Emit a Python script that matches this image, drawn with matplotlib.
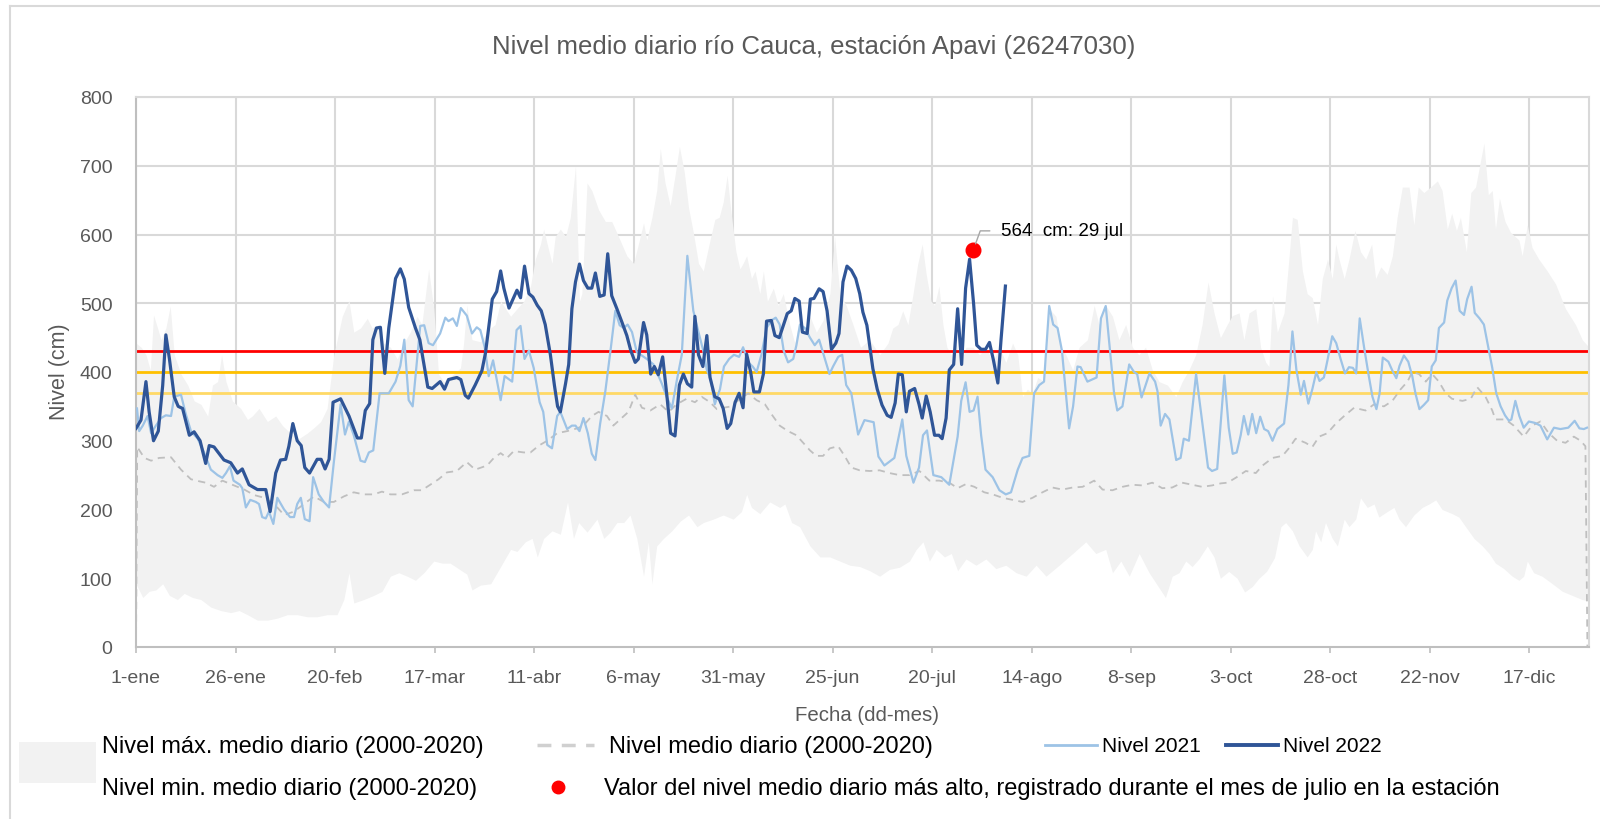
import numpy as np
import matplotlib.pyplot as plt
from matplotlib.lines import Line2D
from matplotlib.patches import Rectangle

plt.rcParams['font.family'] = ['Liberation Sans', 'DejaVu Sans']

# dia del año (0 = 1-ene) y nivel en cm
dia_2022 = [0, 1.25, 2.5, 3.3, 4.4, 5.6, 6.7, 7.5, 8.4, 9.6, 10.6, 11.7, 13.4, 14.6, 16.1, 17.5, 18.4, 19.6,
            20.9, 22.1, 23.8, 25.5, 26.7, 28.4, 30.5, 32.6, 33.7, 35.1, 36.3, 37.6, 38.4, 39.4, 40.5, 41.5,
            42.4, 43.6, 45.5, 46.5, 47.5, 48.5, 49.5, 51.4, 53.5, 55.6, 56.6, 57.6, 58.7, 59.5, 60.4, 61.4,
            62.5, 63.5, 65.2, 66.4, 67.4, 68.5, 70.2, 71.3, 72.1, 73.3, 74.4, 76.4, 77.5, 78.5, 80.6, 81.6,
            82.7, 83.5, 85.2, 86.9, 87.8, 89.5, 90.6, 91.6, 92.4, 93.7, 95.7, 96.6, 97.6, 98.7, 99.7, 100.8,
            101.8, 102.8, 104.1, 105.1, 105.9, 106.6, 107.9, 108.7, 109.5, 110.4, 111.4, 112.4, 113.5, 114.5,
            115.4, 116.5, 117.6, 118.5, 119.5, 120.8, 122.1, 123.3, 124.3, 125.4, 126.2, 127.5, 128.3, 129.3,
            130.2, 131.2, 132.3, 133.3, 134.3, 135.4, 136.5, 137.5, 138.5, 139.6, 140.4, 141.3, 142.4, 143.4,
            144.2, 145.4, 146.5, 147.5, 148.5, 149.4, 150.5, 151.5, 152.5, 153.4, 154.4, 155.2, 156.6, 157.6,
            158.4, 159.6, 160.5, 161.6, 162.7, 163.6, 164.6, 165.5, 166.6, 167.4, 168.6, 169.4, 170.3, 171.6,
            172.6, 173.6, 174.7, 175.8, 176.6, 177.6, 178.6, 179.7, 180.8, 181.8, 182.6, 183.6, 185.1, 186.2,
            187.4, 188.7, 189.7, 190.7, 191.5, 192.5, 193.5, 194.3, 195.6, 196.7, 197.5, 198.5, 199.5, 200.6,
            201.7, 202.5, 203.5, 204.3, 205.4, 206.4, 207.4, 208.4, 209.4, 210.4, 211.2, 212.3, 213.4, 214.4,
            215.4, 216.5, 217.3, 218.4]
nivel_2022 = [318, 330, 386, 342, 300, 314, 380, 454, 419, 364, 350, 347, 308, 313, 300, 267, 293, 291,
              281, 272, 268, 253, 259, 236, 229, 229, 197, 253, 272, 273, 292, 325, 300, 293,
              261, 253, 273, 273, 259, 273, 356, 361, 336, 304, 304, 344, 354, 447, 464, 465,
              398, 464, 536, 550, 535, 494, 464, 447, 419, 378, 376, 386, 375, 389, 392, 389,
              366, 362, 381, 402, 428, 506, 517, 547, 522, 493, 519, 508, 554, 514, 509, 497,
              489, 469, 425, 381, 350, 342, 383, 411, 492, 531, 557, 533, 522, 522,
              544, 510, 512, 572, 511, 492, 472, 453, 431, 414, 419, 472, 454, 397,
              408, 396, 422, 369, 311, 307, 381, 397, 383, 378, 481, 425, 408, 453,
              392, 364, 361, 347, 318, 325, 356, 369, 348, 426, 400, 371, 371, 397,
              474, 475, 453, 450, 469, 485, 489, 507, 503, 458, 456, 506, 507, 521,
              517, 489, 433, 442, 456, 531, 554, 548, 536, 514, 487, 468, 405, 375,
              352, 337, 334, 355, 397, 396, 342, 372, 376, 353, 333, 365, 342, 308,
              308, 303, 333, 403, 411, 492, 411, 522, 564, 500, 439, 433, 433, 443,
              417, 384, 447, 525]

dia_2021 = [0.25, 0.8, 1.7, 2.9, 3.8, 5.0, 6.3, 7.5, 8.8, 9.6, 11.3, 12.5, 13.8, 15.5, 17.1, 18.8, 20.5,
            21.7, 22.6, 23.6, 24.5, 26.1, 26.7, 27.6, 28.7, 30.1, 30.9, 31.7, 32.6, 33.4, 34.5, 35.5, 37.2,
            38.7, 39.7, 40.5, 41.4, 42.4, 43.6, 44.5, 45.9, 47.2, 48.5, 49.7, 51.4, 52.5, 53.5, 54.7, 56.4,
            57.5, 58.5, 59.6, 61.2, 63.5, 65.2, 66.4, 67.4, 68.5, 69.5, 71.4, 72.4, 73.5, 74.6, 76.4, 77.7,
            78.5, 79.6, 80.6, 81.6, 83.1, 84.4, 85.6, 86.5, 87.6, 88.6, 89.7, 91.6, 92.6, 94.5, 95.6, 96.6,
            97.6, 98.7, 99.9, 101.4, 102.3, 103.3, 104.5, 105.8, 106.6, 108.3, 109.5, 110.4, 111.4, 112.4,
            113.5, 114.5, 115.4, 116.6, 117.9, 119.3, 120.4, 121.5, 122.5, 123.5, 124.6, 125.8, 126.8, 128.3,
            130.0, 132.1, 133.3, 134.6, 135.8, 137.1, 138.5, 140.0, 141.3, 142.5, 143.4, 144.4, 145.4, 146.7,
            147.7, 149.0, 150.2, 151.5, 152.5, 153.8, 154.9, 155.9, 157.1, 158.4, 159.6, 160.7, 161.7, 162.7,
            163.8, 165.1, 165.9, 166.8, 168.0, 169.3, 170.5, 171.6, 172.8, 174.2, 175.1, 176.4, 177.4, 178.4,
            179.7, 181.4, 183.0, 185.3, 186.5, 188.0, 190.5, 192.5, 193.5, 195.3, 196.7, 197.7, 198.7, 200.3,
            202.3, 204.3, 206.4, 207.3, 208.4, 209.4, 210.4, 211.4, 212.3, 213.4, 215.2, 216.9, 218.5, 219.8,
            221.5, 222.7, 224.4, 225.6, 226.9, 228.1, 229.4, 230.4, 231.5, 232.6, 234.4, 235.4, 236.5, 237.3,
            239.0, 241.3, 242.4, 243.6, 244.6, 245.7, 246.5, 247.8, 249.5, 250.7, 251.5, 252.6, 254.6, 256.0,
            256.6, 257.4, 258.5, 259.6, 261.3, 262.4, 263.2, 264.5, 266.3, 269.3, 270.3, 271.6, 273.4, 274.5,
            275.5, 276.5, 277.5, 278.3, 279.4, 280.4, 281.4, 282.4, 283.4, 284.4, 285.5, 286.7, 288.4, 289.5,
            290.5, 291.5, 292.6, 293.4, 294.5, 295.5, 296.5, 297.3, 298.4, 299.3, 300.5, 301.5, 302.6, 303.7,
            304.7, 305.7, 306.5, 307.4, 308.5, 309.6, 310.6, 311.6, 312.4, 313.2, 314.6, 315.6, 316.6, 317.4,
            318.5, 319.6, 320.6, 321.4, 322.4, 323.5, 324.6, 325.5, 326.5, 327.3, 328.6, 329.4, 330.5, 331.5,
            332.5, 333.6, 334.4, 335.5, 336.3, 337.5, 338.6, 339.7, 340.7, 341.7, 342.8, 343.9, 344.9, 345.5,
            346.5, 347.5, 348.6, 349.9, 351.4, 352.8, 354.5, 356.2, 357.8, 359.8, 361.4, 362.6, 363.7, 364.5]
nivel_2021 = [347, 314, 322, 336, 311, 322, 333, 337, 336, 364, 367, 339, 314, 303, 283, 258, 250,
              246, 253, 263, 242, 236, 231, 203, 214, 211, 208, 189, 187, 197, 179, 217, 200,
              189, 189, 208, 217, 186, 183, 247, 222, 211, 203, 269, 353, 309, 328, 308, 271,
              269, 283, 286, 369, 369, 386, 409, 447, 359, 350, 467, 468, 442, 439, 456, 479,
              474, 478, 467, 493, 482, 456, 465, 461, 436, 394, 417, 359, 394, 386, 461, 467,
              419, 431, 406, 356, 342, 294, 289, 336, 342, 317, 322, 322, 314, 333,
              311, 281, 272, 325, 372, 436, 489, 468, 464, 469, 458, 429, 425, 419,
              411, 383, 364, 347, 386, 425, 569, 489, 458, 431, 403, 389, 353, 375,
              408, 419, 425, 422, 436, 414, 408, 400, 425, 464, 475, 479, 469, 431,
              414, 419, 439, 469, 464, 450, 439, 447, 424, 397, 408, 422, 425, 381,
              369, 309, 330, 327, 277, 264, 275, 331, 278, 239, 261, 308, 315, 250,
              247, 236, 306, 358, 385, 342, 344, 364, 308, 258, 247, 228, 222, 225,
              258, 275, 278, 369, 381, 386, 496, 469, 464, 431, 318, 350, 408, 407,
              386, 392, 478, 496, 436, 369, 344, 350, 411, 400, 397, 363, 398, 386,
              372, 322, 339, 331, 272, 275, 303, 300, 397, 261, 256, 259, 395, 319,
              281, 283, 308, 336, 309, 339, 311, 335, 317, 314, 300, 317, 325, 381,
              459, 403, 367, 387, 354, 375, 400, 387, 392, 417, 452, 442, 419, 398,
              407, 406, 398, 478, 436, 397, 364, 346, 369, 421, 415, 402, 391, 409,
              424, 415, 394, 369, 346, 352, 359, 408, 417, 464, 472, 504, 522, 533,
              489, 483, 506, 524, 486, 478, 469, 436, 406, 369, 350, 337, 329, 331,
              358, 336, 319, 328, 326, 322, 302, 319, 317, 319, 329, 318, 317, 319]

dia_medio = [0, 0.3, 2.1, 3.8, 5.8, 8.8, 11.3, 13.8, 15.9, 17.5, 19.6, 21.7, 24.2, 27.2, 29.7, 32.2, 34.7,
             37.2, 39.7, 42.2, 44.7, 47.2, 49.7, 52.2, 54.7, 57.2, 59.7, 61.8, 63.9, 66.8, 69.8, 71.8, 73.9,
             76.0, 78.1, 80.6, 83.1, 85.2, 88.2, 89.9, 91.6, 93.2, 94.9, 97.4, 99.1, 101.2, 103.3, 105.8,
             108.3, 110.8, 112.4, 114.5, 116.2, 118.3, 119.9, 121.6, 123.7, 125.4, 127.1, 129.2, 131.7, 133.8,
             135.8, 138.3, 140.4, 142.1, 144.2, 145.9, 147.5, 149.6, 151.7, 153.8, 155.9, 158.0, 159.6, 161.7,
             163.8, 165.9, 167.6, 169.3, 170.9, 172.6, 174.3, 176.4, 178.0, 179.7, 181.8, 184.3, 186.8, 189.3,
             191.8, 194.3, 196.8, 199.3, 201.8, 204.3, 206.4, 208.5, 210.6, 213.1, 215.2, 217.7, 220.2, 222.7,
             225.2, 227.7, 230.2, 232.7, 235.3, 237.8, 240.7, 242.8, 245.3, 247.8, 250.3, 252.8, 255.3, 257.8,
             260.3, 262.8, 265.3, 267.8, 270.3, 272.5, 274.2, 276.5, 278.8, 281.3, 283.0, 285.5, 288.0, 289.6,
             291.3, 293.8, 295.5, 297.2, 299.3, 301.4, 303.5, 306.0, 308.9, 311.0, 313.5, 315.6, 317.7, 319.4,
             320.6, 322.3, 324.0, 325.6, 327.3, 329.0, 330.6, 333.2, 335.3, 336.9, 339.0, 340.7, 341.5, 344.0,
             346.1, 348.6, 350.7, 352.8, 354.9, 357.0, 359.1, 361.2, 362.9, 364.1, 364.6]
nivel_medio = [0, 291, 275, 271, 275, 276, 258, 244, 241, 239, 233, 242, 236, 229, 221, 217, 208,
               192, 197, 208, 219, 211, 211, 219, 225, 222, 222, 226, 222, 222, 228, 228, 236,
               244, 254, 256, 269, 258, 264, 275, 282, 275, 285, 283, 283, 293, 300, 311,
               314, 318, 322, 336, 342, 336, 322, 331, 342, 367, 348, 344, 353, 342,
               353, 361, 356, 364, 356, 346, 348, 350, 361, 369, 359, 353, 339, 322,
               314, 308, 297, 286, 278, 278, 289, 292, 278, 261, 257, 256, 257, 253,
               250, 250, 256, 242, 242, 239, 231, 237, 233, 225, 222, 217, 214, 211,
               217, 225, 232, 229, 232, 233, 242, 229, 228, 233, 236, 235, 239, 231,
               232, 239, 236, 233, 235, 238, 239, 247, 256, 253, 264, 275, 278, 289,
               303, 297, 291, 306, 311, 325, 336, 348, 344, 353, 350, 358, 375, 386,
               400, 397, 386, 397, 386, 369, 361, 358, 361, 378, 364, 344, 331, 331,
               322, 306, 322, 328, 311, 300, 297, 306, 300, 292, 0]

dia_max = [0, 1.3, 2.5, 3.6, 4.4, 6.3, 7.5, 8.6, 9.6, 11.3, 13.0, 14.6, 16.3, 18.0, 19.2, 20.5, 21.5,
           22.6, 24.2, 26.3, 28.0, 29.2, 30.9, 33.0, 35.1, 36.8, 38.8, 40.9, 43.0, 44.7, 46.4, 48.0, 49.7,
           51.8, 53.5, 54.7, 56.4, 58.1, 59.3, 61.0, 62.2, 63.9, 65.6, 67.3, 68.9, 70.6, 71.8, 73.5, 74.8,
           76.0, 77.3, 79.8, 81.5, 82.3, 83.1, 84.4, 86.5, 89.1, 90.2, 91.6, 94.1, 95.7, 97.4, 99.1, 100.3,
           101.6, 102.4, 103.3, 104.5, 105.3, 106.6, 107.9, 109.1, 110.4, 111.4, 112.0, 113.3, 114.5, 116.2,
           117.9, 119.5, 121.2, 123.3, 125.0, 126.2, 127.5, 128.3, 129.6, 130.8, 131.7, 132.9, 134.2, 135.4,
           136.5, 137.7, 138.8, 140.0, 141.3, 142.5, 144.2, 145.4, 146.5, 147.5, 148.5, 149.4, 150.7, 151.7,
           152.5, 153.4, 154.6, 155.5, 156.7, 157.6, 158.6, 160.1, 161.3, 162.6, 164.2, 165.5, 166.7, 168.0,
           169.3, 170.9, 172.6, 174.3, 175.5, 176.8, 178.4, 180.1, 182.0, 184.3, 186.8, 188.9, 190.1, 191.4,
           192.6, 193.9, 195.2, 196.4, 197.5, 198.5, 199.7, 200.6, 201.7, 202.7, 203.7, 204.8, 206.0, 207.3,
           208.5, 210.2, 211.9, 213.5, 215.2, 216.9, 218.5, 220.2, 221.5, 222.7, 223.9, 225.2, 226.5, 228.2,
           229.4, 231.1, 232.3, 233.6, 235.3, 236.9, 239.0, 240.7, 241.9, 243.6, 245.3, 246.9, 248.6, 250.3,
           251.9, 253.6, 255.3, 257.0, 259.1, 261.2, 262.8, 264.5, 266.2, 267.8, 269.3, 270.8, 272.4, 274.1,
           275.4, 277.1, 278.3, 279.6, 281.3, 282.5, 283.8, 284.6, 285.5, 286.7, 288.4, 289.6, 290.5, 291.7,
           293.0, 294.2, 295.5, 296.8, 298.0, 299.3, 300.5, 301.4, 302.2, 303.5, 304.7, 306.2, 307.6, 308.9,
           310.4, 311.4, 312.7, 314.3, 315.6, 316.8, 318.1, 319.8, 321.0, 322.1, 323.5, 325.2, 326.9, 328.1,
           329.4, 330.5, 331.7, 332.7, 334.2, 335.3, 336.5, 338.6, 339.7, 340.7, 341.5, 342.5, 343.9, 345.3,
           347.4, 348.2, 349.5, 350.7, 352.4, 354.5, 356.6, 359.1, 361.6, 363.3, 365]
nivel_max = [442, 436, 425, 403, 483, 447, 464, 496, 425, 397, 381, 358, 353, 336, 381, 386, 425,
             386, 358, 347, 331, 336, 347, 328, 336, 322, 311, 303, 311, 319, 328, 347, 425,
             481, 504, 458, 464, 478, 464, 469, 442, 436, 419, 442, 458, 481, 469, 550, 492,
             397, 386, 397, 406, 442, 497, 447, 444, 464, 469, 503, 481, 492, 503, 525, 564,
             586, 608, 586, 558, 597, 608, 597, 625, 700, 503, 514, 675, 664, 636,
             619, 619, 597, 569, 558, 586, 617, 592, 625, 664, 725, 675, 642, 686,
             728, 692, 639, 603, 558, 547, 592, 622, 625, 647, 686, 636, 575, 550,
             558, 569, 536, 547, 514, 547, 503, 522, 497, 514, 469, 442, 478, 458,
             481, 458, 475, 514, 597, 514, 497, 469, 436, 447, 425, 442, 464, 469,
             489, 469, 514, 558, 586, 542, 503, 497, 525, 469, 436, 425, 442, 414,
             436, 436, 425, 436, 414, 436, 414, 442, 425, 364, 375, 369, 392, 386,
             492, 481, 436, 425, 403, 436, 447, 497, 469, 497, 481, 447, 469, 436,
             425, 436, 403, 386, 381, 364, 386, 403, 425, 469, 531, 486, 450, 469,
             482, 486, 447, 486, 492, 436, 414, 408, 511, 458, 486, 564, 625, 622,
             547, 514, 508, 469, 536, 564, 536, 586, 564, 536, 564, 606, 575, 564,
             586, 536, 553, 542, 569, 625, 669, 669, 614, 669, 661, 669, 678, 664,
             608, 631, 606, 625, 575, 661, 669, 733, 658, 664, 608, 653, 619, 603,
             592, 569, 614, 581, 564, 547, 528, 492, 469, 447, 436]

dia_min = [0, 1.7, 3.3, 5.0, 6.7, 8.4, 10.4, 12.1, 14.2, 16.3, 18.8, 21.3, 23.8, 25.9, 28.0, 30.5, 33.0,
           35.5, 38.0, 40.5, 43.0, 45.5, 48.0, 50.5, 52.2, 53.5, 54.7, 57.2, 59.7, 61.8, 63.9, 66.0, 68.1,
           70.2, 72.3, 74.8, 76.9, 78.9, 81.0, 83.1, 84.4, 86.5, 89.1, 90.7, 92.4, 94.1, 95.7, 97.8, 99.5,
           100.8, 102.4, 104.5, 106.6, 108.4, 109.9, 111.2, 113.3, 115.8, 117.5, 119.1, 120.8, 122.5, 124.1,
           125.8, 127.5, 128.7, 129.6, 130.8, 132.5, 134.6, 136.7, 138.8, 140.9, 142.5, 145.0, 147.5, 150.0,
           152.1, 153.4, 154.6, 156.7, 159.2, 161.7, 163.0, 164.7, 166.7, 169.3, 171.8, 174.3, 176.8, 179.3,
           181.8, 184.3, 186.8, 189.3, 191.8, 194.3, 196.0, 197.7, 199.3, 201.0, 203.1, 204.8, 206.4, 208.5,
           211.0, 213.5, 216.0, 218.5, 221.1, 223.6, 226.1, 228.6, 231.9, 235.3, 238.6, 241.1, 243.6, 245.3,
           247.4, 249.5, 252.0, 254.5, 257.0, 258.6, 260.3, 262.0, 263.7, 265.3, 267.0, 269.1, 270.8, 272.4,
           274.5, 276.6, 278.5, 280.4, 282.1, 284.0, 286.0, 287.6, 288.8, 290.5, 292.2, 294.2, 295.5, 296.3,
           297.6, 298.8, 300.5, 301.8, 303.5, 304.7, 306.4, 307.6, 309.3, 311.0, 312.2, 314.3, 316.0, 317.3,
           318.9, 321.0, 323.1, 324.8, 326.5, 328.1, 330.6, 332.3, 334.0, 336.1, 338.2, 339.9, 341.5, 343.6,
           345.7, 347.4, 348.6, 349.5, 351.1, 353.2, 355.8, 358.3, 360.8, 363.3, 365]
nivel_min = [92, 72, 81, 83, 92, 75, 69, 78, 72, 69, 58, 53, 50, 53, 47, 39, 39,
             42, 47, 47, 44, 44, 47, 47, 69, 108, 64, 69, 75, 81, 103, 108, 103,
             97, 108, 125, 122, 122, 114, 106, 83, 90, 92, 108, 125, 142, 139, 153, 158,
             131, 158, 169, 164, 211, 158, 181, 167, 186, 158, 167, 181, 181, 192,
             158, 103, 153, 92, 147, 158, 169, 183, 192, 175, 181, 186, 192, 186,
             197, 222, 203, 194, 211, 203, 208, 181, 175, 147, 131, 131, 125, 119,
             117, 111, 103, 113, 116, 125, 142, 153, 125, 142, 131, 136, 111, 128,
             119, 128, 114, 119, 108, 103, 119, 103, 119, 136, 153, 136, 142, 108,
             125, 103, 136, 108, 86, 72, 103, 108, 125, 117, 128, 147, 131, 100,
             110, 100, 80, 88, 100, 110, 130, 175, 181, 169, 147, 131, 142, 169,
             153, 181, 158, 147, 186, 175, 186, 217, 203, 208, 189, 197, 203, 186,
             175, 192, 203, 208, 214, 200, 194, 189, 175, 158, 147, 136, 122, 114,
             103, 97, 103, 125, 108, 103, 92, 81, 75, 69, 67]

umbral_rojo = 430
umbral_naranja = 400
umbral_amarillo = 370

dia_pico = 210.3
nivel_pico_marcador = 577
texto_pico = '564  cm: 29 jul'

ticks_dia = [0, 25, 50, 75, 100, 125, 150, 175, 200, 225, 250, 275, 300, 325, 350]
etiquetas_x = ['1-ene', '26-ene', '20-feb', '17-mar', '11-abr', '6-may', '31-may', '25-jun',
               '20-jul', '14-ago', '8-sep', '3-oct', '28-oct', '22-nov', '17-dic']

W, H = 1600, 820


def fx(x):
    return x / W


def fy(y):
    return 1 - y / H


gris_txt = '#595959'

fig = plt.figure(figsize=(16, 8.2), dpi=100)
ax = fig.add_axes([fx(136), fy(648), fx(1589 - 136), (648 - 98) / H])

ax.fill_between(dia_max, 0, nivel_max, color='#F2F2F2', lw=0, zorder=1)
ax.fill_between(dia_min, 0, nivel_min, color='white', lw=0, zorder=1.2)

ax.axhline(umbral_amarillo, color='#FFD966', lw=2, zorder=1.5)
ax.axhline(umbral_naranja, color='#FFC000', lw=2, zorder=1.5)
ax.axhline(umbral_rojo, color='#FF0000', lw=2, zorder=1.5)

ax.plot(dia_medio, nivel_medio, color='#BFBFBF', lw=1.3, dashes=(4, 3), zorder=2)
ax.plot(dia_2021, nivel_2021, color='#9DC3E6', lw=1.6, zorder=3)
ax.plot(dia_2022, nivel_2022, color='#2F5597', lw=2.3, zorder=4)
ax.plot([dia_pico], [nivel_pico_marcador], 'o', color='#FF0000', ms=10.5, zorder=5)

ax.annotate(texto_pico, xy=(dia_pico, nivel_pico_marcador), xytext=(20, 14),
            textcoords='offset points', fontsize=13.5, color='black', va='center', ha='left',
            arrowprops=dict(arrowstyle='-', color='#A6A6A6', lw=1,
                            connectionstyle='angle,angleA=0,angleB=70',
                            relpos=(0, 0.5), shrinkA=6, shrinkB=5), zorder=6)

ax.set_xlim(0, 365)
ax.set_ylim(0, 800)
ax.set_yticks(range(0, 801, 100))
ax.set_xticks(ticks_dia)
ax.set_xticklabels(etiquetas_x)
ax.grid(True, color='#D9D9D9', lw=1.5)
ax.set_axisbelow(True)
for lado in ['top', 'right']:
    ax.spines[lado].set_color('#D9D9D9')
    ax.spines[lado].set_linewidth(1.5)
for lado in ['left', 'bottom']:
    ax.spines[lado].set_color('#BFBFBF')
    ax.spines[lado].set_linewidth(1.5)
ax.tick_params(axis='x', length=4, width=1.2, color='#BFBFBF', pad=12, labelsize=14, labelcolor=gris_txt)
ax.tick_params(axis='y', length=0, pad=17, labelsize=14, labelcolor=gris_txt)

fig.text(fx(814), fy(47), 'Nivel medio diario río Cauca, estación Apavi (26247030)',
         fontsize=18.5, color=gris_txt, ha='center', va='center')
fig.text(fx(60), fy(372), 'Nivel (cm)', rotation=90, fontsize=15.5, color=gris_txt,
         ha='center', va='center')
fig.text(fx(867), fy(716), 'Fecha (dd-mes)', fontsize=14.7, color=gris_txt, ha='center', va='center')

# leyenda dibujada a mano
fig.add_artist(Rectangle((fx(19), fy(784)), fx(96 - 19), (784 - 743) / H,
                         transform=fig.transFigure, facecolor='#F2F2F2', edgecolor='none'))
fig.text(fx(102), fy(747), 'Nivel máx. medio diario (2000-2020)', fontsize=17, va='center')
fig.text(fx(102), fy(789), 'Nivel min. medio diario (2000-2020)', fontsize=17, va='center')
fig.add_artist(Line2D([fx(537), fx(594)], [fy(746), fy(746)], transform=fig.transFigure,
                      color='#D0D0D0', lw=2.5, dashes=(4, 3)))
fig.text(fx(609), fy(747), 'Nivel medio diario (2000-2020)', fontsize=17, va='center')
fig.add_artist(Line2D([fx(558)], [fy(788)], transform=fig.transFigure, marker='o',
                      color='#FF0000', ms=9, lw=0))
fig.text(fx(604), fy(789),
         'Valor del nivel medio diario más alto, registrado durante el mes de julio en la estación',
         fontsize=17, va='center')
fig.add_artist(Line2D([fx(1045), fx(1097)], [fy(746), fy(746)], transform=fig.transFigure,
                      color='#9DC3E6', lw=2))
fig.text(fx(1102), fy(747), 'Nivel 2021', fontsize=15, va='center')
fig.add_artist(Line2D([fx(1226), fx(1278)], [fy(746), fy(746)], transform=fig.transFigure,
                      color='#2F5597', lw=2.8))
fig.text(fx(1283), fy(747), 'Nivel 2022', fontsize=15, va='center')

# borde exterior
fig.add_artist(Line2D([fx(10), 1], [fy(7), fy(7)], transform=fig.transFigure, color='#D9D9D9', lw=1.5))
fig.add_artist(Line2D([fx(10), fx(10)], [fy(7), 0], transform=fig.transFigure, color='#D9D9D9', lw=1.5))

fig.savefig('out.png', dpi=100)
